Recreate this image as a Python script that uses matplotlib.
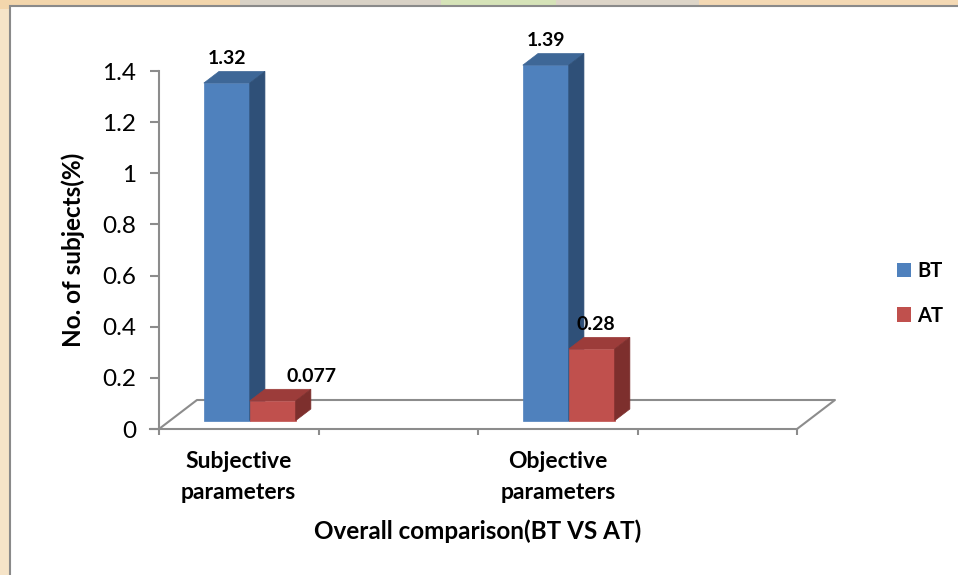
import numpy as np
import matplotlib.pyplot as plt
from matplotlib.patches import Polygon, Rectangle, Patch

# data
categories = ['Subjective\nparameters', 'Objective\nparameters']
series = ['BT', 'AT']
bt_vals = [1.32, 1.39]
at_vals = [0.077, 0.28]
bt_labels = ['1.32', '1.39']
at_labels = ['0.077', '0.28']

# colours: front, top, side
face_cols = {'BT': ('#4f81bd', '#3e6797', '#2f5078'),
             'AT': ('#c0504d', '#9c3c3a', '#7d2f2d')}
grid_col = '#8c8c8c'
font = 'Lato'

# fake-3d geometry (data units)
DX, DY = 0.238, 0.1134      # full depth of the floor
d0, d1 = 0.29, 0.69         # depth span of the columns
bw = 0.288                  # column width
centers = [0.5, 2.5]

fig = plt.figure(figsize=(9.58, 5.75), dpi=100, facecolor='#f6e4c8')
# faint backdrop strip along the top edge
for x0, w, c in [(0.0, 0.25, '#f3d6ac'), (0.25, 0.21, '#d9d2c6'),
                 (0.46, 0.12, '#d6e3b8'), (0.58, 0.15, '#ddd5c8'),
                 (0.73, 0.27, '#f4d9b4')]:
    fig.patches.append(Rectangle((x0, 0.985), w, 0.02, transform=fig.transFigure,
                                 facecolor=c, edgecolor='none', zorder=-2))
fig.patches.append(Rectangle((9.5 / 958, -0.02), 1.1, 1.02 - 6 / 575,
                             transform=fig.transFigure, facecolor='white',
                             edgecolor='#8a8a8a', lw=1.5, zorder=-1))

ax = fig.add_axes([159 / 958, 146 / 575, 638 / 958, 358 / 575])
ax.set_facecolor('none')
ax.set_xlim(0, 4)
ax.set_ylim(0, 1.4)
for s in ['top', 'right', 'bottom']:
    ax.spines[s].set_visible(False)
ax.spines['left'].set_color(grid_col)
ax.spines['left'].set_linewidth(1.5)

# floor outline and x axis line
ax.plot([-0.057, 4], [0, 0], color=grid_col, lw=1.5, clip_on=False, zorder=1)
ax.plot([0, DX, 4 + DX, 4], [0, DY, DY, 0], color=grid_col, lw=1.5,
        clip_on=False, zorder=1)

yt = np.arange(0, 1.41, 0.2)
ax.set_yticks(yt)
ax.set_yticklabels(['0' if v == 0 else ('%g' % round(v, 1)) for v in yt],
                   fontsize=17.5, family=font)
ax.tick_params(axis='y', direction='out', length=6.5, width=1.5,
               color=grid_col, pad=10)
ax.set_xticks(range(5))
ax.set_xticklabels([])
ax.tick_params(axis='x', which='major', direction='out', length=4.5,
               width=1.5, color=grid_col)
ax.set_xticks(centers, minor=True)
ax.set_xticklabels(categories, minor=True, fontsize=16.5, fontweight='bold',
                   family=font, linespacing=1.55)
ax.tick_params(axis='x', which='minor', length=0, pad=16)

ax.set_xlabel('Overall comparison(BT VS AT)', fontsize=17.5, fontweight='bold',
              family=font, labelpad=12)
ax.set_ylabel('No. of subjects(%)', fontsize=17.5, fontweight='bold',
              family=font, labelpad=12)


def column(x0, v, cols):
    x1 = x0 + bw
    front = [(x0 + d0 * DX, d0 * DY), (x1 + d0 * DX, d0 * DY),
             (x1 + d0 * DX, v + d0 * DY), (x0 + d0 * DX, v + d0 * DY)]
    top = [(x0 + d0 * DX, v + d0 * DY), (x1 + d0 * DX, v + d0 * DY),
           (x1 + d1 * DX, v + d1 * DY), (x0 + d1 * DX, v + d1 * DY)]
    side = [(x1 + d0 * DX, d0 * DY), (x1 + d1 * DX, d1 * DY),
            (x1 + d1 * DX, v + d1 * DY), (x1 + d0 * DX, v + d0 * DY)]
    for pts, c in zip([front, top, side], cols):
        ax.add_patch(Polygon(pts, closed=True, facecolor=c, edgecolor=c,
                             lw=0.5, zorder=3, clip_on=False))


# label nudges in points (0.077 is pushed clear of the tall column)
nudge = {'BT': [0, 0], 'AT': [28, 3]}

for i, c in enumerate(centers):
    for j, (name, vals, labs) in enumerate([('BT', bt_vals, bt_labels),
                                            ('AT', at_vals, at_labels)]):
        x0 = c - bw + j * bw
        v = vals[i]
        column(x0, v, face_cols[name])
        ax.annotate(labs[i], (x0 + bw / 2 + d0 * DX, v + d1 * DY),
                    xytext=(nudge[name][i], 3), textcoords='offset points',
                    ha='center', va='bottom', fontsize=14, fontweight='bold',
                    family=font, annotation_clip=False, zorder=4)

handles = [Patch(facecolor=face_cols[s][0], edgecolor='none') for s in series]
fig.legend(handles, series, loc='center left',
           bbox_to_anchor=(897 / 958, 1 - 293.5 / 575), frameon=False,
           prop={'family': font, 'weight': 'bold', 'size': 14.5},
           handlelength=0.7, handleheight=0.7, handletextpad=0.3,
           labelspacing=1.2, borderaxespad=0, borderpad=0)

fig.savefig('out.png', dpi=100, facecolor=fig.get_facecolor())
